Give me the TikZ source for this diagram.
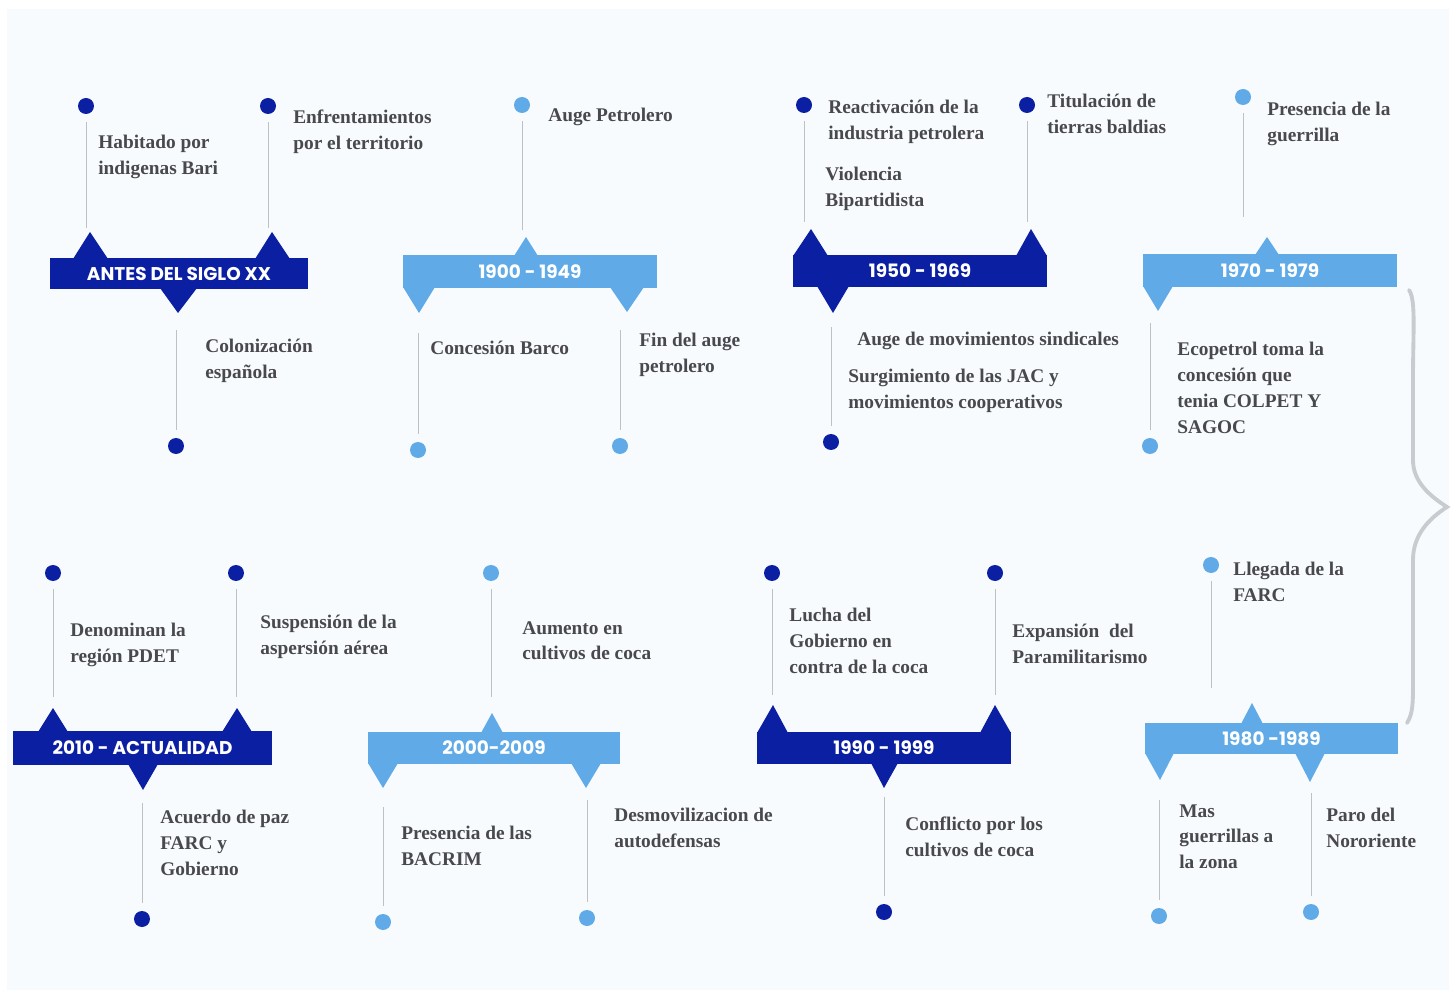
\documentclass[tikz,border=0pt]{standalone}
\usepackage{fontspec}
\setmainfont{Liberation Serif}
\newfontfamily\bandfont{Poppins}

\definecolor{darkband}{RGB}{11,31,163}
\definecolor{lightband}{RGB}{96,170,232}
\definecolor{stemgray}{RGB}{190,192,196}
\definecolor{textgray}{RGB}{72,72,78}
\definecolor{bracegray}{RGB}{200,203,207}
\definecolor{paper}{RGB}{248,251,254}

\tikzstyle{txt}=[anchor=north west,inner sep=0pt,align=left,text=textgray,font=\fontsize{11}{14.7}\selectfont\bfseries]
\tikzstyle{dotd}=[circle,fill=darkband,minimum size=3.2mm,inner sep=0pt]
\tikzstyle{dotl}=[circle,fill=lightband,minimum size=3.2mm,inner sep=0pt]
\tikzstyle{band}=[rectangle,inner sep=0pt,text=white,minimum width=50.8mm,minimum height=6.4mm,font=\bandfont\bfseries\fontsize{10.5}{12}\selectfont]

\begin{document}
\begin{tikzpicture}[x=0.2mm,y=-0.2mm]
        \tikzstyle{bandd}=[band,fill=darkband]
        \tikzstyle{bandl}=[band,fill=lightband]
        \tikzstyle{stem}=[draw=stemgray,line width=0.5pt]
        \useasboundingbox (0,0) rectangle (1456,996);
        \fill[white] (0,0) rectangle (1456,996);
        \fill[paper] (7,9) rectangle (1449,990);
        %
        % antes del siglo xx
        \fill[darkband] (73,259) -- (90,232) -- (108,259) -- cycle;
        \fill[darkband] (255,259) -- (272,232) -- (290,259) -- cycle;
        \fill[darkband] (160,288) -- (178,313) -- (197,288) -- cycle;
        \draw (179,273.5) node[bandd,minimum width=51.6mm,minimum height=6.2mm](b1){ANTES DEL SIGLO XX};
        \draw (86,106) node[dotd](d1a){};
        \draw (268,106) node[dotd](d1b){};
        \draw (176,446) node[dotd](d1c){};
        \coordinate (s1a) at (86,228);
        \coordinate (s1b) at (268,228);
        \coordinate (s1c) at (176,330);
        \draw (98,135) node[txt](t1a){Habitado por\\indigenas Bari};
        \draw (293,110) node[txt](t1b){Enfrentamientos\\por el territorio};
        \draw (205,339) node[txt](t1c){Colonización\\española};
        %
        % 1900 - 1949
        \fill[lightband] (514,256) -- (526,237) -- (538,256) -- cycle;
        \fill[lightband] (403,287) -- (419,313) -- (435,287) -- cycle;
        \fill[lightband] (610,287) -- (627,312) -- (644,287) -- cycle;
        \draw (530,271.5) node[bandl,minimum height=6.6mm](b2){1900 - 1949};
        \draw (522,105) node[dotl](d2a){};
        \draw (418,450) node[dotl](d2b){};
        \draw (620,446) node[dotl](d2c){};
        \coordinate (s2a) at (522,230);
        \coordinate (s2b) at (418,333);
        \coordinate (s2c) at (620,330);
        \draw (548,108) node[txt](t2a){Auge Petrolero};
        \draw (430,341) node[txt](t2b){Concesión Barco};
        \draw (639,333) node[txt](t2c){Fin del auge\\petrolero};
        %
        % 1950 - 1969
        \fill[darkband] (793,256) -- (811,229) -- (828,256) -- cycle;
        \fill[darkband] (1016,256) -- (1031,229) -- (1047,256) -- cycle;
        \fill[darkband] (817,286) -- (833,313) -- (849,286) -- cycle;
        \draw (920,271) node[bandd](b3){1950 - 1969};
        \draw (804,105) node[dotd](d3a){};
        \draw (1027,105) node[dotd](d3b){};
        \draw (831,442) node[dotd](d3c){};
        \coordinate (s3a) at (804,222);
        \coordinate (s3b) at (1027,222);
        \coordinate (s3c) at (831,327);
        \draw (828,100) node[txt](t3a){Reactivación de la\\industria petrolera};
        \draw (825,167) node[txt](t3b){Violencia\\Bipartidista};
        \draw (1047,94) node[txt](t3c){Titulación de\\tierras baldias};
        \draw (857,332) node[txt](t3d){Auge de movimientos sindicales};
        \draw (848,369) node[txt](t3e){Surgimiento de las JAC y\\movimientos cooperativos};
        %
        % 1970 - 1979
        \fill[lightband] (1255,255) -- (1267,237) -- (1279,255) -- cycle;
        \fill[lightband] (1143,286) -- (1158,311) -- (1173,286) -- cycle;
        \draw (1270,270.5) node[bandl,minimum height=6.6mm](b4){1970 - 1979};
        \draw (1243,97) node[dotl](d4a){};
        \draw (1150,446) node[dotl](d4b){};
        \coordinate (s4a) at (1243,217);
        \coordinate (s4b) at (1150,323);
        \draw (1267,102) node[txt](t4a){Presencia de la\\guerrilla};
        \draw (1177,342) node[txt](t4b){Ecopetrol toma la\\concesión que\\tenia COLPET Y\\SAGOC};
        %
        % 2010 - actualidad
        \fill[darkband] (38,732) -- (53,708) -- (68,732) -- cycle;
        \fill[darkband] (222,732) -- (237,708) -- (252,732) -- cycle;
        \fill[darkband] (128,764) -- (143,790) -- (158,764) -- cycle;
        \draw (142.5,748) node[bandd,minimum width=51.8mm,minimum height=6.8mm](b5){2010 - ACTUALIDAD};
        \draw (53,573) node[dotd](d5a){};
        \draw (236,573) node[dotd](d5b){};
        \draw (142,919) node[dotd](d5c){};
        \coordinate (s5a) at (53,697);
        \coordinate (s5b) at (236,697);
        \coordinate (s5c) at (142,803);
        \draw (70,623) node[txt](t5a){Denominan la\\región PDET};
        \draw (260,615) node[txt](t5b){Suspensión de la\\aspersión aérea};
        \draw (160,810) node[txt](t5c){Acuerdo de paz\\FARC y\\Gobierno};
        %
        % 2000-2009
        \fill[lightband] (481,733) -- (492,713) -- (503,733) -- cycle;
        \fill[lightband] (368,763) -- (383,788) -- (398,763) -- cycle;
        \fill[lightband] (571,763) -- (586,788) -- (601,763) -- cycle;
        \draw (494,748) node[bandl,minimum width=50.4mm](b6){2000-2009};
        \draw (491,573) node[dotl](d6a){};
        \draw (383,922) node[dotl](d6b){};
        \draw (587,918) node[dotl](d6c){};
        \coordinate (s6a) at (491,697);
        \coordinate (s6b) at (383,807);
        \coordinate (s6c) at (587,800);
        \draw (522,621) node[txt](t6a){Aumento en\\cultivos de coca};
        \draw (401,826) node[txt](t6b){Presencia de las\\BACRIM};
        \draw (614,808) node[txt](t6c){Desmovilizacion de\\autodefensas};
        %
        % 1990 - 1999
        \fill[darkband] (757,733) -- (773,705) -- (788,733) -- cycle;
        \fill[darkband] (980,733) -- (995,705) -- (1011,733) -- cycle;
        \fill[darkband] (871,763) -- (884,788) -- (898,763) -- cycle;
        \draw (884,748) node[bandd](b7){1990 - 1999};
        \draw (772,573) node[dotd](d7a){};
        \draw (995,573) node[dotd](d7b){};
        \draw (884,912) node[dotd](d7c){};
        \coordinate (s7a) at (772,695);
        \coordinate (s7b) at (995,695);
        \coordinate (s7c) at (884,797);
        \draw (789,608) node[txt](t7a){Lucha del\\Gobierno en\\contra de la coca};
        \draw (1012,624) node[txt](t7b){Expansión\ \ del\\Paramilitarismo};
        \draw (905,817) node[txt](t7c){Conflicto por los\\cultivos de coca};
        %
        % 1980 -1989
        \fill[lightband] (1241,724) -- (1252,703) -- (1263,724) -- cycle;
        \fill[lightband] (1145,753) -- (1160,780) -- (1174,753) -- cycle;
        \fill[lightband] (1295,753) -- (1310,782) -- (1325,753) -- cycle;
        \draw (1271.5,738.5) node[bandl,minimum width=50.6mm,minimum height=6.2mm](b8){1980 -1989};
        \draw (1211,565) node[dotl](d8a){};
        \draw (1159,916) node[dotl](d8b){};
        \draw (1311,912) node[dotl](d8c){};
        \coordinate (s8a) at (1211,688);
        \coordinate (s8b) at (1159,800);
        \coordinate (s8c) at (1311,793);
        \draw (1233,562) node[txt](t8a){Llegada de la\\FARC};
        \draw (1179,804) node[txt](t8b){Mas\\guerrillas a\\la zona};
        \draw (1326,808) node[txt](t8c){Paro del\\Nororiente};
        %
        \path[every edge/.style={stem,shorten <=1.6mm}]
            (d1a)   edge    (s1a)
            (d1b)   edge    (s1b)
            (d1c)   edge    (s1c)
            (d2a)   edge    (s2a)
            (d2b)   edge    (s2b)
            (d2c)   edge    (s2c)
            (d3a)   edge    (s3a)
            (d3b)   edge    (s3b)
            (d3c)   edge    (s3c)
            (d4a)   edge    (s4a)
            (d4b)   edge    (s4b)
            (d5a)   edge    (s5a)
            (d5b)   edge    (s5b)
            (d5c)   edge    (s5c)
            (d6a)   edge    (s6a)
            (d6b)   edge    (s6b)
            (d6c)   edge    (s6c)
            (d7a)   edge    (s7a)
            (d7b)   edge    (s7b)
            (d7c)   edge    (s7c)
            (d8a)   edge    (s8a)
            (d8b)   edge    (s8b)
            (d8c)   edge    (s8c)
        ;
        %
        % brace between the rows
        \draw[bracegray,line width=2.2pt,line cap=round]
            (1409,290) .. controls (1416,300) and (1413,330) .. (1413,380) -- (1413,460)
            .. controls (1413,482) and (1430,496) .. (1447,507)
            .. controls (1430,518) and (1413,534) .. (1413,560) -- (1413,660)
            .. controls (1413,700) and (1414,712) .. (1407,723);
      \end{tikzpicture}
\end{document}
